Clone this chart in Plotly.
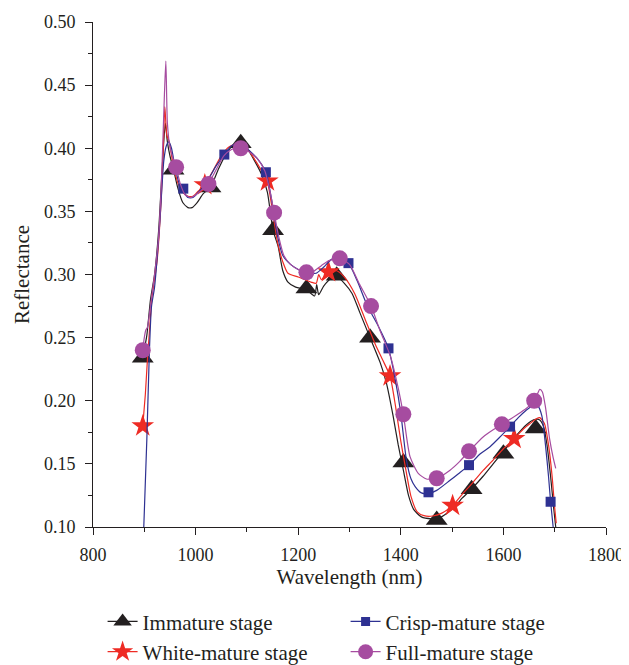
import plotly.graph_objects as go

# ---------------- data ----------------
imm_wl = [897, 905, 912, 920, 928, 935, 941, 945, 950, 957, 965, 975, 985, 993, 1003, 1015, 1029, 1045,
          1060, 1075, 1088, 1100, 1115, 1130, 1140, 1151, 1161, 1170, 1180, 1195, 1216, 1232, 1236, 1240,
          1250, 1265, 1276, 1290, 1305, 1320, 1340, 1360, 1372, 1385, 1395, 1405, 1415, 1425, 1440, 1460,
          1475, 1490, 1505, 1520, 1540, 1560, 1580, 1600, 1620, 1645, 1660, 1670, 1678, 1685, 1692, 1698, 1702]
imm_val = [0.234, 0.252, 0.280, 0.300, 0.335, 0.385, 0.420, 0.405, 0.394, 0.383, 0.369, 0.357, 0.353, 0.353,
           0.357, 0.364, 0.369, 0.384, 0.396, 0.403, 0.405, 0.400, 0.390, 0.378, 0.365, 0.335, 0.322, 0.303,
           0.294, 0.290, 0.288, 0.283, 0.292, 0.284, 0.291, 0.297, 0.298, 0.293, 0.285, 0.270, 0.250, 0.230,
           0.214, 0.188, 0.165, 0.145, 0.125, 0.114, 0.108, 0.1065, 0.107, 0.111, 0.116, 0.123, 0.131, 0.140,
           0.150, 0.160, 0.170, 0.181, 0.185, 0.185, 0.180, 0.165, 0.140, 0.115, 0.100]
imm_mk_wl = [897, 957, 1029, 1088, 1151, 1216, 1275, 1340, 1405, 1470, 1538, 1600, 1663]
imm_mk_val = [0.234, 0.383, 0.369, 0.404, 0.335, 0.289, 0.299, 0.250, 0.151, 0.1055, 0.130, 0.158, 0.178]

crisp_wl = [899, 905, 910, 914, 920, 930, 938, 943, 948, 953, 960, 968, 976, 985, 995, 1005, 1020, 1040,
            1056, 1070, 1088, 1105, 1120, 1137, 1150, 1160, 1170, 1185, 1200, 1217, 1235, 1250, 1265, 1280,
            1298, 1315, 1335, 1355, 1376, 1390, 1400, 1411, 1420, 1428, 1440, 1454, 1470, 1496, 1515, 1533,
            1555, 1574, 1595, 1613, 1630, 1645, 1660, 1667, 1675, 1682, 1688, 1692, 1697]
crisp_val = [0.100, 0.170, 0.240, 0.2745, 0.290, 0.340, 0.390, 0.402, 0.405, 0.400, 0.385, 0.372, 0.366,
             0.361, 0.361, 0.365, 0.372, 0.386, 0.395, 0.402, 0.404, 0.398, 0.392, 0.381, 0.355, 0.330,
             0.315, 0.308, 0.304, 0.301, 0.301, 0.306, 0.312, 0.313, 0.309, 0.295, 0.275, 0.260, 0.2415,
             0.215, 0.190, 0.153, 0.138, 0.132, 0.127, 0.1265, 0.129, 0.137, 0.143, 0.149, 0.158, 0.1636,
             0.172, 0.1795, 0.187, 0.1927, 0.1966, 0.196, 0.188, 0.165, 0.140, 0.120, 0.100]
crisp_mk_wl = [976, 1056, 1137, 1217, 1298, 1376, 1454, 1533, 1613, 1692]
crisp_mk_val = [0.368, 0.395, 0.381, 0.301, 0.309, 0.2415, 0.1275, 0.149, 0.1795, 0.120]

white_wl = [897, 902, 906, 910, 915, 925, 933, 937, 940, 944, 948, 955, 965, 975, 985, 995, 1005, 1018,
            1035, 1050, 1065, 1085, 1100, 1120, 1140, 1150, 1160, 1170, 1180, 1200, 1225, 1235, 1240, 1245,
            1259, 1275, 1290, 1310, 1330, 1350, 1365, 1379, 1390, 1400, 1410, 1420, 1432, 1445, 1462, 1480,
            1501, 1520, 1540, 1561, 1580, 1600, 1621, 1640, 1652, 1665, 1671, 1680, 1688, 1695, 1700, 1703]
white_val = [0.180, 0.205, 0.232, 0.255, 0.282, 0.311, 0.360, 0.400, 0.433, 0.410, 0.406, 0.390, 0.373,
             0.365, 0.362, 0.362, 0.366, 0.371, 0.383, 0.394, 0.401, 0.404, 0.400, 0.388, 0.373, 0.350,
             0.325, 0.310, 0.301, 0.298, 0.294, 0.293, 0.300, 0.296, 0.302, 0.303, 0.298, 0.285, 0.265,
             0.245, 0.232, 0.2196, 0.195, 0.168, 0.145, 0.124, 0.112, 0.109, 0.1087, 0.111, 0.117, 0.126,
             0.135, 0.145, 0.153, 0.162, 0.170, 0.178, 0.182, 0.186, 0.1866, 0.182, 0.165, 0.140, 0.115, 0.103]
white_mk_wl = [897, 1018, 1140, 1259, 1379, 1501, 1621]
white_mk_val = [0.180, 0.371, 0.374, 0.302, 0.2196, 0.117, 0.170]

full_wl = [897, 900, 903, 906, 912, 920, 928, 934, 939, 942, 945, 950, 956, 962, 970, 980, 990, 1000, 1012,
           1025, 1040, 1055, 1070, 1088, 1105, 1120, 1135, 1145, 1153, 1162, 1172, 1185, 1200, 1216, 1228,
           1245, 1260, 1281, 1300, 1320, 1342, 1360, 1380, 1395, 1405, 1418, 1434, 1450, 1470, 1496, 1515,
           1533, 1561, 1580, 1597, 1626, 1645, 1660, 1667, 1671, 1676, 1682, 1690, 1697, 1702]
full_val = [0.240, 0.250, 0.256, 0.258, 0.275, 0.300, 0.330, 0.380, 0.440, 0.469, 0.420, 0.401, 0.392,
            0.385, 0.372, 0.363, 0.361, 0.363, 0.367, 0.372, 0.383, 0.394, 0.399, 0.401, 0.397, 0.392,
            0.382, 0.366, 0.349, 0.330, 0.315, 0.308, 0.304, 0.302, 0.302, 0.307, 0.311, 0.3128, 0.308,
            0.292, 0.275, 0.255, 0.235, 0.210, 0.189, 0.1557, 0.1425, 0.138, 0.1386, 0.145, 0.152, 0.160,
            0.1715, 0.177, 0.1813, 0.1887, 0.194, 0.200, 0.206, 0.209, 0.207, 0.195, 0.170, 0.155, 0.1465]
full_mk_wl = [897, 962, 1025, 1088, 1153, 1216, 1281, 1342, 1405, 1470, 1533, 1597, 1660]
full_mk_val = [0.240, 0.385, 0.3717, 0.400, 0.349, 0.3017, 0.3128, 0.275, 0.1893, 0.1386, 0.160, 0.1813, 0.200]

x_ticks = [800, 1000, 1200, 1400, 1600, 1800]
y_ticks = [0.10, 0.15, 0.20, 0.25, 0.30, 0.35, 0.40, 0.45, 0.50]

# ---------------- styling ----------------
FONT = "Liberation Serif"
INK = "#231f20"
colors = {"imm": "#231f20", "crisp": "#2e3192", "white": "#ee2b24", "full": "#a64ca0"}

fig = go.Figure()

def add_series(wl, val, mk_wl, mk_val, color, symbol, size):
    fig.add_trace(go.Scatter(x=wl, y=val, mode="lines",
                             line=dict(color=color, width=1.2, shape="spline", smoothing=0.6),
                             showlegend=False, hoverinfo="skip"))
    fig.add_trace(go.Scatter(x=mk_wl, y=mk_val, mode="markers",
                             marker=dict(symbol=symbol, size=size, color=color, line=dict(width=0)),
                             showlegend=False))

add_series(imm_wl, imm_val, imm_mk_wl, imm_mk_val, colors["imm"], "triangle-up", 19)
add_series(white_wl, white_val, white_mk_wl, white_mk_val, colors["white"], "star", 17)
add_series(crisp_wl, crisp_val, crisp_mk_wl, crisp_mk_val, colors["crisp"], "square", 10)
add_series(full_wl, full_val, full_mk_wl, full_mk_val, colors["full"], "circle", 16)

legend_spec = [("Immature stage", colors["imm"], "triangle-up", 16),
               ("Crisp-mature stage", colors["crisp"], "square", 9),
               ("White-mature stage", colors["white"], "star", 16),
               ("Full-mature stage", colors["full"], "circle", 15)]
for nm, c, sym, sz in legend_spec:
    fig.add_trace(go.Scatter(x=[None], y=[None], name=nm, mode="lines+markers",
                             line=dict(color=c, width=1.2), marker=dict(symbol=sym, size=sz, color=c)))

axis_common = dict(showline=True, linecolor=INK, linewidth=1, showgrid=False, zeroline=False,
                   ticks="outside", ticklen=7, tickwidth=1, tickcolor=INK, mirror=False,
                   tickfont=dict(family=FONT, size=18, color=INK))

# the page body has an 8 px margin, so the figure is sized/offset to compensate
fig.update_layout(
    width=621, height=657,
    margin=dict(l=85, r=23, t=14, b=138, autoexpand=False),
    paper_bgcolor="white", plot_bgcolor="white",
    font=dict(family=FONT, color=INK),
    xaxis=dict(range=[800, 1800], tickvals=x_ticks, ticktext=[str(v) for v in x_ticks],
               minor=dict(dtick=100, ticks="outside", ticklen=4, tickcolor=INK),
               ticklabelstandoff=4,
               title=dict(text="Wavelength (nm)", font=dict(family=FONT, size=21, color=INK), standoff=5),
               **axis_common),
    yaxis=dict(range=[0.10, 0.50], tickvals=y_ticks, ticktext=[f"{v:.2f}" for v in y_ticks],
               minor=dict(dtick=0.025, ticks="outside", ticklen=4, tickcolor=INK),
               ticklabelstandoff=6,
               title=dict(text="Reflectance", font=dict(family=FONT, size=21, color=INK), standoff=8),
               **axis_common),
    legend=dict(orientation="h", x=0.0187, xanchor="left", y=-0.147, yanchor="top",
                entrywidth=198, entrywidthmode="pixels", traceorder="normal",
                font=dict(family=FONT, size=21, color=INK), bgcolor="rgba(0,0,0,0)",
                itemwidth=30, tracegroupgap=0),
)

fig.write_html("out.html")
